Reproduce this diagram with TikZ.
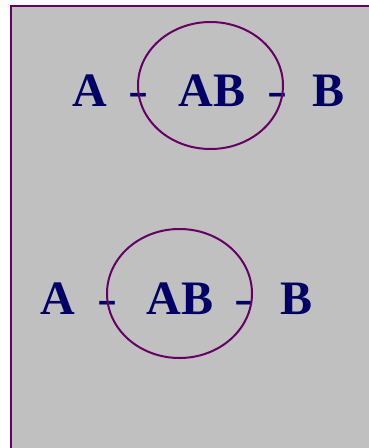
\documentclass[tikz,border=0pt]{standalone}
\usepackage{fontspec}
\setmainfont{Liberation Serif}
\definecolor{frame}{HTML}{660066}
\definecolor{panel}{HTML}{C0C0C0}
\definecolor{ink}{HTML}{000066}
\begin{document}
\begin{tikzpicture}[x=1pt,y=-1pt,
  lbl/.style={anchor=base,inner sep=0pt,text=ink,font=\fontsize{48}{56}\selectfont\bfseries},
  hyph/.style={lbl,font=\fontsize{48}{56}\selectfont\mdseries,xscale=1.25},
  ring/.style={draw=frame,line width=2pt}]
\useasboundingbox (0,0) rectangle (369,448);
% panel with frame (runs off the right and bottom)
\fill[white] (0,0) rectangle (369,448);
\filldraw[fill=panel,draw=frame,line width=2.2pt] (11,6) rectangle (380,460);
% upper group
\node[lbl] (a1) at (90,106) {A};
\node[hyph] (dl1) at (138.5,106) {-};
\node[lbl] (ab1) at (212,106) {AB};
\node[hyph] (dr1) at (277,106) {-};
\node[lbl] (b1) at (329,106) {B};
\draw[ring] (210.5,85.5) ellipse [x radius=72.5, y radius=63.5];
% lower group
\node[lbl] (a2) at (58,314) {A};
\node[hyph] (dl2) at (107,314) {-};
\node[lbl] (ab2) at (180,314) {AB};
\node[hyph] (dr2) at (244,314) {-};
\node[lbl] (b2) at (297,314) {B};
\draw[ring] (179.5,293.5) ellipse [x radius=72.5, y radius=64.5];
\end{tikzpicture}
\end{document}
